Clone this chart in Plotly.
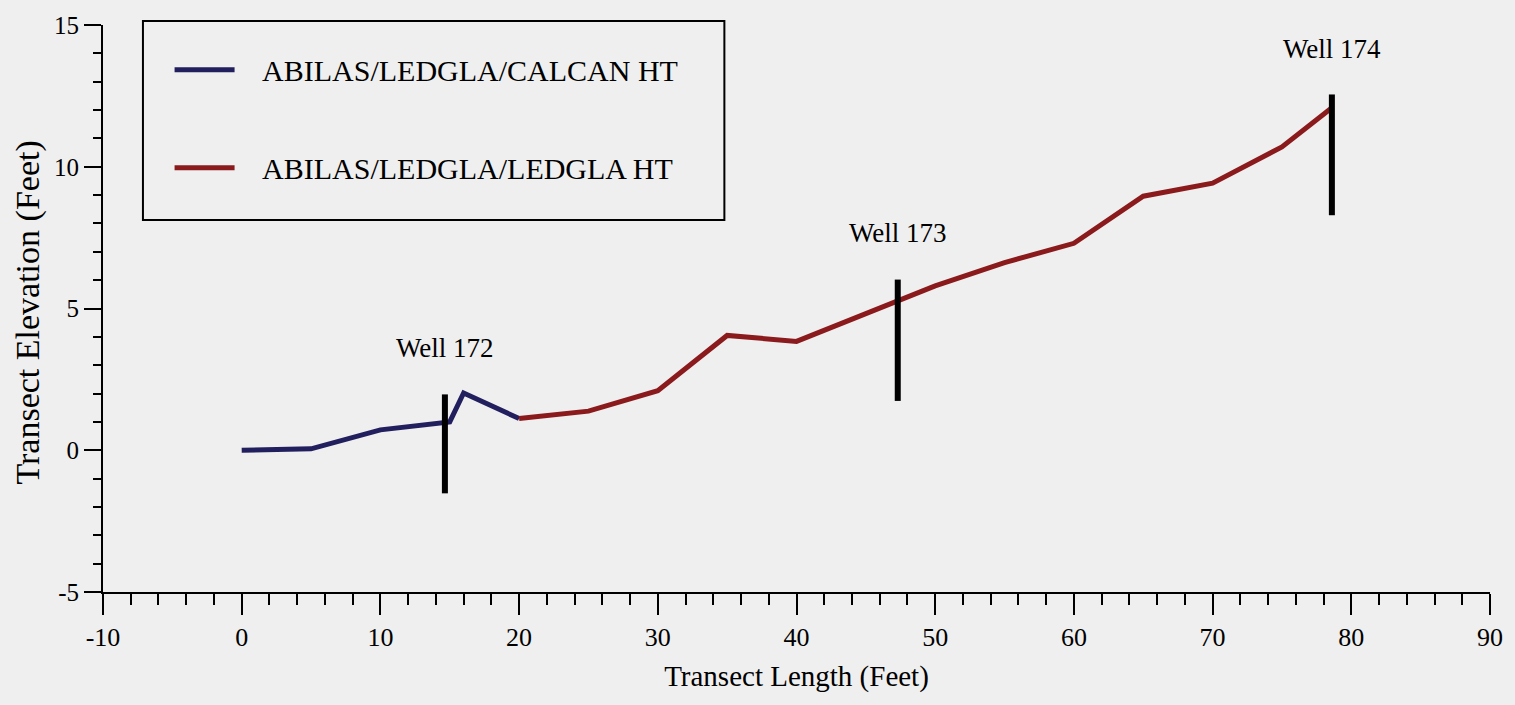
import plotly.graph_objects as go

# ---- data ----
blue_x = [0, 5, 10, 15, 16, 20]
blue_y = [0.0, 0.05, 0.72, 1.0, 2.02, 1.12]
red_x = [20, 25, 30, 35, 40, 45, 50, 55, 60, 65, 70, 75, 78.6]
red_y = [1.12, 1.38, 2.1, 4.05, 3.84, 4.8, 5.8, 6.62, 7.3, 8.96, 9.42, 10.7, 12.08]
series_names = ["ABILAS/LEDGLA/CALCAN HT", "ABILAS/LEDGLA/LEDGLA HT"]

well_names = ["Well 172", "Well 173", "Well 174"]
well_x = [14.65, 47.3, 78.6]
well_top = [1.97, 6.02, 12.55]
well_bottom = [-1.52, 1.74, 8.29]
well_label_y = [3.6, 7.67, 14.16]

x_ticks = [-10, 0, 10, 20, 30, 40, 50, 60, 70, 80, 90]
x_tick_labels = ["-10", "0", "10", "20", "30", "40", "50", "60", "70", "80", "90"]
y_ticks = [-5, 0, 5, 10, 15]
y_tick_labels = ["-5", "0", "5", "10", "15"]

FONT = "Liberation Serif"
BLUE = "#221f5e"
RED = "#8b1a1c"
BG = "#efefef"
PAD = "\u00a0\u00a0\u00a0"

fig = go.Figure()
fig.add_trace(go.Scatter(x=blue_x, y=blue_y, mode="lines", name=PAD + series_names[0],
                         line=dict(color=BLUE, width=5), legendgroup="a"))
fig.add_trace(go.Scatter(x=red_x, y=red_y, mode="lines", name=PAD + series_names[1],
                         line=dict(color=RED, width=5), legendgroup="b"))

wx, wy = [], []
for x, t, b in zip(well_x, well_top, well_bottom):
    wx += [x, x, None]
    wy += [b, t, None]
fig.add_trace(go.Scatter(x=wx, y=wy, mode="lines", showlegend=False,
                         line=dict(color="black", width=6), hoverinfo="skip"))

for name, x, y in zip(well_names, well_x, well_label_y):
    fig.add_annotation(x=x, y=y, text=name, showarrow=False,
                       font=dict(family=FONT, size=27, color="black"))

# y-axis title as annotation (placed like the reference)
fig.add_annotation(xref="paper", yref="paper", x=-0.054, y=0.493,
                   xanchor="center", yanchor="middle",
                   text="Transect Elevation (Feet)", textangle=-90, showarrow=False,
                   font=dict(family=FONT, size=34, color="black"))

# legend frame
fig.add_shape(type="rect", xref="paper", yref="paper",
              x0=0.0288, x1=0.448, y0=0.656, y1=1.007,
              line=dict(color="black", width=2), fillcolor="rgba(0,0,0,0)")

fig.update_layout(
    width=1515, height=705,
    margin=dict(l=103, r=22, t=22, b=113),
    paper_bgcolor=BG, plot_bgcolor=BG,
    font=dict(family=FONT, size=25, color="black"),
    showlegend=True,
    legend=dict(x=0.048, y=0.967, xanchor="left", yanchor="top",
                bgcolor="rgba(0,0,0,0)", borderwidth=0,
                font=dict(family=FONT, size=30, color="black"),
                itemwidth=60, tracegroupgap=56, traceorder="grouped"),
    xaxis=dict(range=[-10, 90], tickvals=x_ticks, ticktext=x_tick_labels,
               ticks="outside", ticklen=21,
               tickwidth=2, tickcolor="black", showline=True, linecolor="black",
               linewidth=2, showgrid=False, zeroline=False,
               minor=dict(dtick=2, ticklen=11, tickwidth=1.5, tickcolor="black", ticks="outside"),
               title=dict(text="Transect Length (Feet)", font=dict(family=FONT, size=29), standoff=14),
               tickfont=dict(family=FONT, size=26)),
    yaxis=dict(range=[-5, 15], tickvals=y_ticks, ticktext=y_tick_labels,
               ticks="outside", ticklen=17,
               tickwidth=2, tickcolor="black", showline=True, linecolor="black",
               linewidth=2, showgrid=False, zeroline=False,
               minor=dict(dtick=1, ticklen=8, tickwidth=1.5, tickcolor="black", ticks="outside"),
               tickfont=dict(family=FONT, size=25)),
)

fig.write_html("out.html", config={"displayModeBar": False},
               post_script="document.body.style.margin='0';document.body.style.background='%s';" % BG)
